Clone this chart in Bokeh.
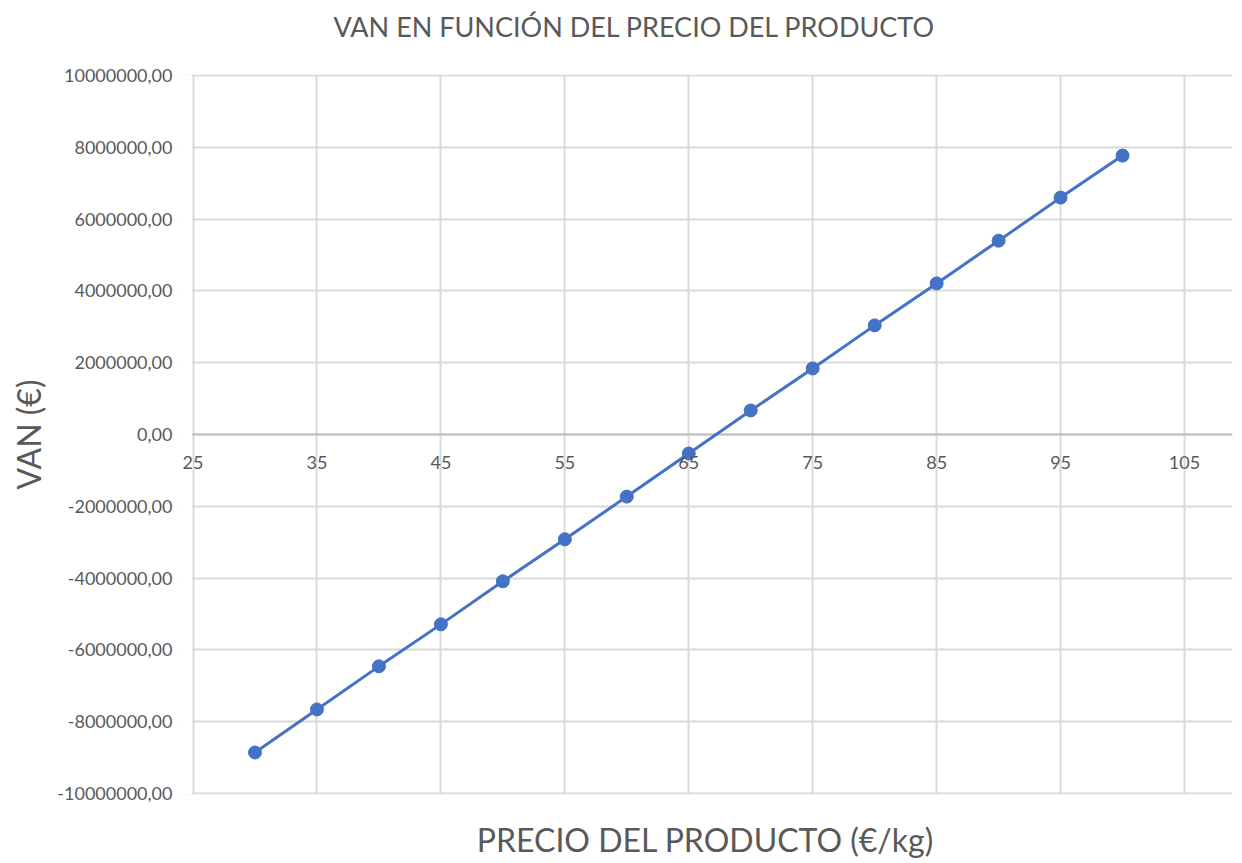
from bokeh.plotting import figure
from bokeh.models import Span, FixedTicker, CustomJSTickFormatter, ColumnDataSource, LabelSet, BoxAnnotation, Title
from bokeh.core.properties import value
from bokeh.embed import file_html
from bokeh.resources import INLINE

precio = [30, 35, 40, 45, 50, 55, 60, 65, 70, 75, 80, 85, 90, 95, 100]
van = [-8860000, -7660000, -6460000, -5290000, -4090000, -2920000, -1730000,
       -530000, 670000, 1840000, 3040000, 4210000, 5400000, 6600000, 7770000]
x_ticks = [25, 35, 45, 55, 65, 75, 85, 95, 105]
x_tick_labels = [str(t) for t in x_ticks]
y_ticks = [-10000000, -8000000, -6000000, -4000000, -2000000, 0,
           2000000, 4000000, 6000000, 8000000, 10000000]

FONT = "Lato"
TXT = "#595959"
BLUE = "#4472C4"
GRID = "#d9d9d9"

p = figure(width=1242, height=863, x_range=(23.83, 108.87), y_range=(-10030000, 10030000),
           output_backend="svg", toolbar_location=None,
           min_border_left=178, min_border_right=10, min_border_top=74, min_border_bottom=69)
p.outline_line_color = None
p.background_fill_color = "white"
p.border_fill_color = "white"

# main title (placed outermost)
p.title.text = "VAN EN FUNCIÓN DEL PRECIO DEL PRODUCTO"
p.title.text_font = FONT
p.title.text_font_size = "27px"
p.title.text_font_style = "normal"
p.title.text_color = TXT
p.title.align = "left"
p.title.offset = 155
p.title.standoff = 0

# spacer between title and frame
spacer = Title(text=" ", text_font=FONT, text_font_size="25px", standoff=0)
p.add_layout(spacer, "above")

# grids
p.xgrid.ticker = FixedTicker(ticks=x_ticks)
p.ygrid.ticker = FixedTicker(ticks=y_ticks)
p.xgrid.grid_line_color = GRID
p.ygrid.grid_line_color = GRID
p.xgrid.grid_line_width = 2
p.ygrid.grid_line_width = 2

# y axis
p.yaxis.ticker = FixedTicker(ticks=y_ticks)
p.yaxis.formatter = CustomJSTickFormatter(code="return tick.toFixed(2).replace('.', ',');")
p.yaxis.axis_line_color = None
p.yaxis.major_tick_line_color = None
p.yaxis.minor_tick_line_color = None
p.yaxis.major_tick_out = 0
p.yaxis.major_tick_in = 0
p.yaxis.major_label_text_font = FONT
p.yaxis.major_label_text_font_size = "18px"
p.yaxis.major_label_text_color = TXT
p.yaxis.major_label_standoff = 6
p.yaxis.axis_label = "VAN (€)"
p.yaxis.axis_label_text_font = FONT
p.yaxis.axis_label_text_font_size = "32px"
p.yaxis.axis_label_text_font_style = "normal"
p.yaxis.axis_label_text_color = TXT
p.yaxis.axis_label_standoff = 6

# x axis (labels drawn at zero line)
p.xaxis.ticker = FixedTicker(ticks=x_ticks)
p.xaxis.axis_line_color = None
p.xaxis.major_tick_line_color = None
p.xaxis.minor_tick_line_color = None
p.xaxis.major_tick_out = 0
p.xaxis.major_label_text_color = None
p.xaxis.major_label_text_font_size = "10px"
p.xaxis.axis_label = "PRECIO DEL PRODUCTO (€/kg)"
p.xaxis.axis_label_text_font = FONT
p.xaxis.axis_label_text_font_size = "32px"
p.xaxis.axis_label_text_font_style = "normal"
p.xaxis.axis_label_text_color = TXT
p.xaxis.axis_label_standoff = 25

p.add_layout(Span(location=0, dimension="width", line_color="#bfbfbf", line_width=2, level="underlay"))
p.add_layout(BoxAnnotation(right=24.93, fill_color="white", fill_alpha=1.0, line_color=None))

tick_src = ColumnDataSource(dict(x=x_ticks, y=[0] * len(x_ticks), t=x_tick_labels))
p.add_layout(LabelSet(x="x", y="y", text="t", source=tick_src, text_font=value(FONT),
                      text_font_size=value("18px"), text_color=TXT, text_align="center",
                      text_baseline="middle", y_offset=-28))

src = ColumnDataSource(dict(x=precio, y=van))
p.line(x="x", y="y", source=src, line_color=BLUE, line_width=3)
p.scatter(x="x", y="y", source=src, size=13, fill_color=BLUE, line_color=BLUE)

open("out.html", "w").write(file_html(p, INLINE))
